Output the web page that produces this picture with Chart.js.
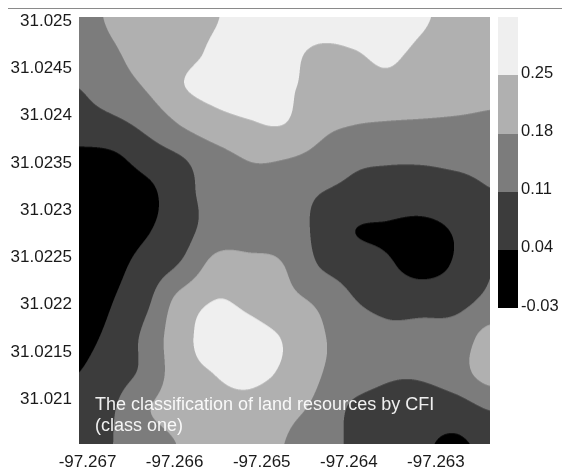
<!DOCTYPE html>
<html>
<head>
<meta charset="utf-8">
<script src="https://cdn.jsdelivr.net/npm/chart.js@4.4.1/dist/chart.umd.min.js"></script>
<style>
  html, body { margin: 0; padding: 0; background: #fff; }
  #wrap { width: 562px; height: 470px; }
</style>
</head>
<body>
<div id="wrap"><canvas id="cfi" width="562" height="470"></canvas></div>
<script>
// grid nodes (longitude / latitude) of the CFI surface
const lonGrid = [-97.26710, -97.26671, -97.26631, -97.26592, -97.26553, -97.26513, -97.26474,
                 -97.26434, -97.26395, -97.26356, -97.26317, -97.26277, -97.26238];
const latGrid = [31.02504, 31.02466, 31.02429, 31.02392, 31.02354, 31.02316, 31.02278,
                 31.02241, 31.02203, 31.02165, 31.02128, 31.02091, 31.02053];

// CFI values, one row per latitude (north -> south)
const cfiRows = [
  [0.155, 0.19, 0.21, 0.235, 0.248, 0.27, 0.275, 0.27, 0.265, 0.265, 0.255, 0.235, 0.22],
  [0.14, 0.172, 0.21, 0.235, 0.258, 0.275, 0.262, 0.244, 0.248, 0.256, 0.242, 0.225, 0.21],
  [0.11, 0.145, 0.185, 0.245, 0.268, 0.272, 0.258, 0.235, 0.23, 0.235, 0.225, 0.21, 0.195],
  [0.085, 0.095, 0.13, 0.185, 0.225, 0.245, 0.25, 0.2, 0.182, 0.175, 0.172, 0.17, 0.168],
  [0.015, 0.025, 0.07, 0.105, 0.15, 0.183, 0.18, 0.16, 0.125, 0.118, 0.118, 0.125, 0.13],
  [-0.02, -0.01, 0.02, 0.09, 0.13, 0.15, 0.145, 0.11, 0.09, 0.075, 0.07, 0.08, 0.105],
  [-0.02, 0.0, 0.035, 0.085, 0.14, 0.15, 0.15, 0.095, 0.042, 0.033, 0.025, 0.045, 0.08],
  [-0.01, 0.02, 0.07, 0.12, 0.205, 0.2, 0.18, 0.11, 0.08, 0.05, 0.02, 0.048, 0.105],
  [0.0, 0.04, 0.1, 0.21, 0.252, 0.235, 0.2, 0.17, 0.115, 0.09, 0.085, 0.09, 0.125],
  [0.02, 0.06, 0.13, 0.23, 0.27, 0.27, 0.245, 0.19, 0.15, 0.125, 0.13, 0.14, 0.205],
  [0.04, 0.08, 0.13, 0.225, 0.252, 0.265, 0.24, 0.185, 0.15, 0.12, 0.12, 0.15, 0.21],
  [0.06, 0.105, 0.175, 0.21, 0.23, 0.23, 0.2, 0.165, 0.1, 0.08, 0.07, 0.08, 0.115],
  [0.07, 0.11, 0.15, 0.185, 0.21, 0.21, 0.18, 0.14, 0.1, 0.07, 0.05, 0.03, 0.06]
];

// contour classes
const levels = [-0.03, 0.04, 0.11, 0.18, 0.25];
const levelLabels = ['-0.03', '0.04', '0.11', '0.18', '0.25'];
const shades = ['#000000', '#3c3c3c', '#7c7c7c', '#b0b0b0', '#efefef'];

const xTicks = [-97.267, -97.266, -97.265, -97.264, -97.263];
const xTickLabels = ['-97.267', '-97.266', '-97.265', '-97.264', '-97.263'];
const yTicks = [31.021, 31.0215, 31.022, 31.0225, 31.023, 31.0235, 31.024, 31.0245, 31.025];
const yTickLabels = ['31.021', '31.0215', '31.022', '31.0225', '31.023', '31.0235', '31.024', '31.0245', '31.025'];

const noteLines = ['The classification of land resources by CFI', '(class one)'];

const FONT = "'Liberation Sans', Arial, sans-serif";

function hexRgb(h) {
  return [parseInt(h.slice(1, 3), 16), parseInt(h.slice(3, 5), 16), parseInt(h.slice(5, 7), 16)];
}
const shadeRgb = shades.map(hexRgb);

function cr(p0, p1, p2, p3, t) {
  return p1 + 0.5 * t * (p2 - p0 + t * (2 * p0 - 5 * p1 + 4 * p2 - p3 + t * (3 * (p1 - p2) + p3 - p0)));
}
function cfiAt(gx, gy) {
  const n = lonGrid.length, m = latGrid.length;
  const cl = (v, hi) => Math.max(0, Math.min(hi, v));
  gx = cl(gx, n - 1); gy = cl(gy, m - 1);
  const i = Math.min(Math.floor(gx), n - 2), j = Math.min(Math.floor(gy), m - 2);
  const tx = gx - i, ty = gy - j;
  const col = [];
  for (let k = -1; k <= 2; k++) {
    const r = cfiRows[cl(j + k, m - 1)];
    col.push(cr(r[cl(i - 1, n - 1)], r[i], r[i + 1], r[cl(i + 2, n - 1)], tx));
  }
  return cr(col[0], col[1], col[2], col[3], ty);
}
function classOf(z) {
  let k = 0;
  for (let l = 1; l < levels.length; l++) if (z >= levels[l]) k = l;
  return k;
}

const contourFill = {
  id: 'contourFill',
  beforeDatasetsDraw(chart) {
    const { ctx, chartArea: a, scales: { x, y } } = chart;
    const w = Math.round(a.right - a.left), h = Math.round(a.bottom - a.top);
    const ss = 3;
    const n = lonGrid.length, m = latGrid.length;
    const gxs = [], gys = [];
    for (let p = 0; p < w * ss; p++) {
      const lon = x.getValueForPixel(a.left + (p + 0.5) / ss);
      gxs.push((lon - lonGrid[0]) / (lonGrid[n - 1] - lonGrid[0]) * (n - 1));
    }
    for (let p = 0; p < h * ss; p++) {
      const lat = y.getValueForPixel(a.top + (p + 0.5) / ss);
      gys.push((latGrid[0] - lat) / (latGrid[0] - latGrid[m - 1]) * (m - 1));
    }
    const off = document.createElement('canvas');
    off.width = w; off.height = h;
    const octx = off.getContext('2d');
    const img = octx.createImageData(w, h);
    for (let py = 0; py < h; py++) {
      for (let px = 0; px < w; px++) {
        let r = 0, g = 0, b = 0;
        for (let sy = 0; sy < ss; sy++) {
          const gy = gys[py * ss + sy];
          for (let sx = 0; sx < ss; sx++) {
            const c = shadeRgb[classOf(cfiAt(gxs[px * ss + sx], gy))];
            r += c[0]; g += c[1]; b += c[2];
          }
        }
        const o = (py * w + px) * 4, q = ss * ss;
        img.data[o] = r / q; img.data[o + 1] = g / q; img.data[o + 2] = b / q; img.data[o + 3] = 255;
      }
    }
    octx.putImageData(img, 0, 0);
    ctx.drawImage(off, a.left, a.top);
  },
  afterDraw(chart) {
    const { ctx, chartArea: a } = chart;
    ctx.save();
    // frame line at the top of the figure
    ctx.strokeStyle = '#8a8a8a';
    ctx.lineWidth = 1;
    ctx.beginPath();
    ctx.moveTo(8, 8.5);
    ctx.lineTo(chart.width, 8.5);
    ctx.stroke();

    // note inside the map
    ctx.fillStyle = 'rgba(255,255,255,0.92)';
    ctx.font = '18px ' + FONT;
    ctx.textBaseline = 'alphabetic';
    ctx.textAlign = 'left';
    ctx.fillText(noteLines[0], a.left + 16, 410);
    ctx.fillText(noteLines[1], a.left + 16, 431);

    // colour bar
    const bx = 498, bw = 20, top = a.top, bottom = 308;
    const seg = (bottom - top) / shades.length;
    shades.forEach((c, k) => {
      ctx.fillStyle = c;
      const y0 = bottom - (k + 1) * seg;
      ctx.fillRect(bx, Math.round(y0), bw, Math.round(y0 + seg) - Math.round(y0));
    });
    ctx.fillStyle = '#1a1a1a';
    ctx.font = '16.5px ' + FONT;
    ctx.textBaseline = 'middle';
    levelLabels.forEach((t, k) => {
      ctx.fillText(t, bx + bw + 3, bottom - k * seg - 2);
    });
    ctx.restore();
  }
};

new Chart(document.getElementById('cfi'), {
  type: 'scatter',
  data: { datasets: [{ data: [], pointRadius: 0 }] },
  options: {
    responsive: false,
    animation: false,
    events: [],
    layout: { padding: { left: 0, right: 72, top: 15, bottom: 0 } },
    plugins: { legend: { display: false }, tooltip: { enabled: false } },
    scales: {
      x: {
        type: 'linear',
        min: -97.267098,
        max: -97.262379,
        border: { display: false },
        grid: { display: false, drawTicks: false },
        afterBuildTicks: s => { s.ticks = xTicks.map(v => ({ value: v })); },
        afterFit: s => { s.height = 26; },
        ticks: {
          padding: 8,
          color: '#1a1a1a',
          maxRotation: 0,
          autoSkip: false,
          font: { family: FONT, size: 17 },
          callback: v => xTickLabels[xTicks.indexOf(v)]
        }
      },
      y: {
        type: 'linear',
        min: 31.020526,
        max: 31.025042,
        border: { display: false },
        grid: { display: false, drawTicks: false },
        afterBuildTicks: s => { s.ticks = yTicks.map(v => ({ value: v })); },
        afterFit: s => { s.width = 79; },
        ticks: {
          padding: 7,
          color: '#1a1a1a',
          autoSkip: false,
          font: { family: FONT, size: 17 },
          callback: v => yTickLabels[yTicks.indexOf(v)]
        }
      }
    }
  },
  plugins: [contourFill]
});
</script>
</body>
</html>
